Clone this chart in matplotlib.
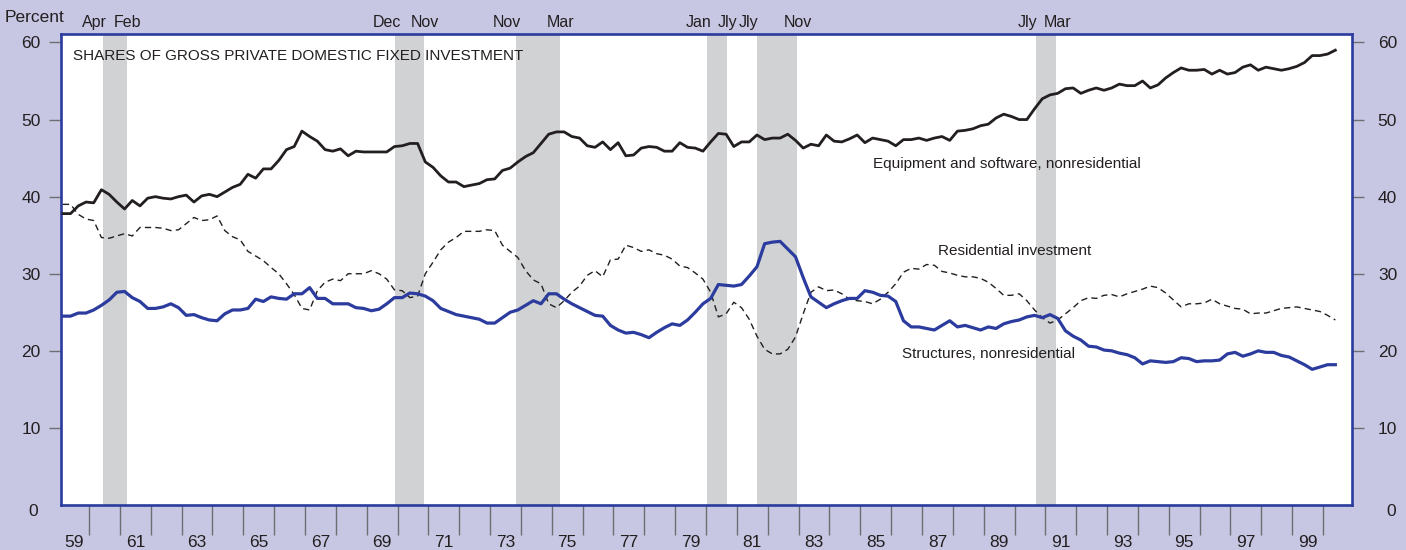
import numpy as np
import pandas as pd
import matplotlib
matplotlib.use("Agg")
import matplotlib.pyplot as plt

# quarterly shares, 1959Q1 - 2000Q2 (percent of gross private domestic fixed investment)
equipment = [
    37.8, 37.8, 38.8, 39.3, 39.2, 40.9, 40.3, 39.3, 38.4, 39.5,
    38.8, 39.8, 40.0, 39.8, 39.7, 40.0, 40.2, 39.3, 40.1, 40.3,
    40.0, 40.6, 41.2, 41.6, 42.9, 42.4, 43.6, 43.6, 44.7, 46.1,
    46.5, 48.5, 47.8, 47.2, 46.1, 45.9, 46.2, 45.3, 45.9, 45.8,
    45.8, 45.8, 45.8, 46.5, 46.6, 46.9, 46.9, 44.5, 43.8, 42.7,
    41.9, 41.9, 41.3, 41.5, 41.7, 42.2, 42.3,
    43.4, 43.7, 44.5, 45.2, 45.7, 46.9, 48.1, 48.4, 48.4, 47.8,
    47.6, 46.6, 46.4, 47.1, 46.1, 47.0, 45.3, 45.4, 46.3, 46.5,
    46.4, 45.9, 45.9, 47.0, 46.4, 46.3, 45.9, 47.1, 48.2, 48.1,
    46.5, 47.1, 47.1, 48.0, 47.4, 47.6, 47.6, 48.1, 47.3, 46.3,
    46.8, 46.6, 48.0, 47.2, 47.1, 47.5, 48.0, 47.0, 47.6, 47.4,
    47.2, 46.6, 47.4, 47.4, 47.6, 47.3,
    47.6, 47.8, 47.3, 48.5, 48.6, 48.8, 49.2, 49.4, 50.2, 50.7,
    50.4, 50.0, 50.0, 51.4, 52.7, 53.2, 53.4, 54.0, 54.1, 53.4,
    53.8, 54.1, 53.8, 54.1, 54.6, 54.4, 54.4, 55.0, 54.1, 54.5,
    55.4, 56.1, 56.7, 56.4, 56.4, 56.5, 55.9, 56.4, 55.9, 56.1,
    56.8, 57.1, 56.4, 56.8, 56.6, 56.4, 56.6, 56.9, 57.4, 58.3,
    58.3, 58.5, 59.0,
]
residential = [
    39.0, 39.0, 37.7, 37.1, 36.9, 34.7, 34.6, 34.9, 35.2, 34.9,
    36.0, 36.0, 36.0, 35.9, 35.6, 35.7, 36.5, 37.3, 36.9, 37.0,
    37.5, 35.6, 34.8, 34.4, 32.9, 32.3, 31.7, 30.8, 30.0, 28.7,
    27.3, 25.5, 25.3, 27.8, 28.9, 29.3, 29.1, 30.0, 30.0, 30.0,
    30.4, 30.0, 29.3, 27.9, 27.8, 26.9, 27.1, 30.0, 31.5, 33.1,
    34.1, 34.7, 35.5, 35.5, 35.5, 35.7, 35.6,
    33.7, 32.9, 32.1, 30.4, 29.2, 28.7, 26.1, 25.6, 26.5, 27.6,
    28.4, 29.8, 30.4, 29.6, 31.8, 31.9, 33.7, 33.4, 32.9, 33.1,
    32.6, 32.4, 31.9, 31.0, 30.8, 30.1, 29.3, 27.6, 24.4, 24.8,
    26.3, 25.6, 24.1, 21.9, 20.2, 19.6, 19.6, 20.2, 21.8, 24.8,
    27.6, 28.3, 27.8, 27.9, 27.4, 26.7, 26.5, 26.4, 26.1, 26.7,
    27.6, 28.7, 30.2, 30.7, 30.6, 31.2,
    31.1, 30.3, 30.1, 29.8, 29.6, 29.6, 29.4, 28.9, 28.1, 27.2,
    27.2, 27.4, 26.5, 25.3, 24.3, 23.6, 24.0, 24.8, 25.6, 26.5,
    26.9, 26.8, 27.2, 27.3, 27.0, 27.4, 27.7, 28.0, 28.4, 28.2,
    27.5, 26.6, 25.7, 26.1, 26.1, 26.2, 26.7, 26.1, 25.8, 25.5,
    25.4, 24.8, 24.9, 24.9, 25.2, 25.5, 25.6, 25.7, 25.5, 25.3,
    25.1, 24.6, 24.0,
]
structures = [
    24.5, 24.5, 24.9, 24.9, 25.3, 25.9, 26.6, 27.6, 27.7, 26.9,
    26.4, 25.5, 25.5, 25.7, 26.1, 25.6, 24.6, 24.7, 24.3, 24.0,
    23.9, 24.8, 25.3, 25.3, 25.5, 26.7, 26.4, 27.0, 26.8, 26.7,
    27.4, 27.4, 28.2, 26.8, 26.8, 26.1, 26.1, 26.1, 25.6, 25.5,
    25.2, 25.4, 26.1, 26.9, 26.9, 27.5, 27.4, 27.1, 26.5, 25.5,
    25.1, 24.7, 24.5, 24.3, 24.1, 23.6, 23.6,
    24.3, 25.0, 25.3, 25.9, 26.5, 26.1, 27.4, 27.4, 26.7, 26.1,
    25.6, 25.1, 24.6, 24.5, 23.3, 22.7, 22.3, 22.4, 22.1, 21.7,
    22.4, 23.0, 23.5, 23.3, 24.0, 25.0, 26.1, 26.8, 28.6, 28.5,
    28.4, 28.6, 29.7, 30.9, 33.9, 34.1, 34.2, 33.2, 32.2, 29.5,
    27.0, 26.3, 25.6, 26.1, 26.5, 26.8, 26.8, 27.8, 27.6, 27.2,
    27.1, 26.4, 23.9, 23.1, 23.1, 22.9,
    22.7, 23.3, 23.9, 23.1, 23.3, 23.0, 22.7, 23.1, 22.9, 23.5,
    23.8, 24.0, 24.4, 24.6, 24.3, 24.7, 24.2, 22.6, 21.9, 21.4,
    20.6, 20.5, 20.1, 20.0, 19.7, 19.5, 19.1, 18.3, 18.7, 18.6,
    18.5, 18.6, 19.1, 19.0, 18.6, 18.7, 18.7, 18.8, 19.6, 19.8,
    19.3, 19.6, 20.0, 19.8, 19.8, 19.4, 19.2, 18.7, 18.2, 17.6,
    17.9, 18.2, 18.2,
]

# recessions (decimal years, as shaded) and their month labels
rec_start = [1960.45, 1969.92, 1973.84, 1980.03, 1981.65, 1990.70]
rec_end = [1961.23, 1970.85, 1975.27, 1980.68, 1982.94, 1991.35]
start_labels = ["Apr", "Dec", "Nov", "Jan", "Jly", "Jly"]
end_labels = ["Feb", "Nov", "Mar", "Jly", "Nov", "Mar"]

year_labels = [f"{y % 100:02d}" for y in range(1959, 2000, 2)]

quarters = pd.period_range("1959Q1", periods=len(equipment), freq="Q")
t = quarters.year + (quarters.quarter - 1) / 4 + 0.15

BG = "#c7c7e3"
BLUE = "#2b3c9e"
INK = "#231f20"
plt.rcParams["font.family"] = ["Liberation Sans", "DejaVu Sans"]

fig = plt.figure(figsize=(14.06, 5.5), dpi=100, facecolor=BG)
ax = fig.add_axes([61 / 1406, 45 / 550, (1352 - 61) / 1406, (505 - 34) / 550])
ax.set_xlim(1959.09, 2000.94)
ax.set_ylim(0, 61.1)

for s, e in zip(rec_start, rec_end):
    ax.axvspan(s, e, color="#d1d2d4", lw=0, zorder=1)

ax.plot(t, residential, color=INK, lw=1.0, dashes=(4.5, 3), zorder=3)
ax.plot(t, equipment, color=INK, lw=2.0, zorder=4)
ax.plot(t, structures, color=BLUE, lw=2.3, zorder=4)

for sp in ax.spines.values():
    sp.set_color(BLUE)
    sp.set_linewidth(1.9)

# y axis on both sides; right-hand labels are right-aligned
ax.set_yticks(range(10, 61, 10))
ax.tick_params(axis="y", which="major", direction="out", length=8.5, width=1.0,
               color="#6d6e71", labelsize=12.5, labelcolor=INK, pad=6,
               left=True, right=True, labelleft=True, labelright=True)
for tick in ax.yaxis.get_major_ticks():
    tick.label2.set_horizontalalignment("right")
    tick.label2.set_x(1 + 25 / 1291)
for side_x, ha, off in [(0, "right", -16.5), (1, "left", 24.5)]:
    ax.annotate("0", xy=(side_x, 0), xycoords=("axes fraction", "data"),
                xytext=(off, -5), textcoords="offset points", ha=ha, va="center",
                fontsize=12.5, color=INK, annotation_clip=False)

# x axis: year boundary ticks, odd-year labels centred within the year
ax.set_xticks(range(1960, 2001))
ax.set_xticklabels([])
ax.set_xticks([y + 0.5 for y in range(1959, 2000, 2)], minor=True)
ax.set_xticklabels(year_labels, minor=True)
ax.tick_params(axis="x", which="major", direction="out", length=21.5, width=1.0,
               color="#6d6e71")
ax.tick_params(axis="x", which="minor", length=0, pad=21.5, labelsize=12.5,
               labelcolor=INK)

# recession month labels above the panel
for s, lab in zip(rec_start, start_labels):
    ax.text(s - 0.28, 62.6, lab, ha="center", va="center", fontsize=11.5,
            color=INK, clip_on=False)
for e, lab in zip(rec_end, end_labels):
    ax.text(e + 0.03, 62.6, lab, ha="center", va="center", fontsize=11.5,
            color=INK, clip_on=False)

fig.text(5 / 1406, 1 - 17 / 550, "Percent", ha="left", va="center",
         fontsize=12.5, color=INK)

ax.text(1959.48, 58.2, "SHARES OF GROSS PRIVATE DOMESTIC FIXED INVESTMENT",
        ha="left", va="center", fontsize=11, color=INK)
ax.text(1985.41, 44.3, "Equipment and software, nonresidential", ha="left",
        va="center", fontsize=11, color=INK)
ax.text(1987.52, 33.0, "Residential investment", ha="left", va="center",
        fontsize=11, color=INK)
ax.text(1986.35, 19.6, "Structures, nonresidential", ha="left", va="center",
        fontsize=11, color=INK)

fig.savefig("out.png", dpi=100, facecolor=BG)
